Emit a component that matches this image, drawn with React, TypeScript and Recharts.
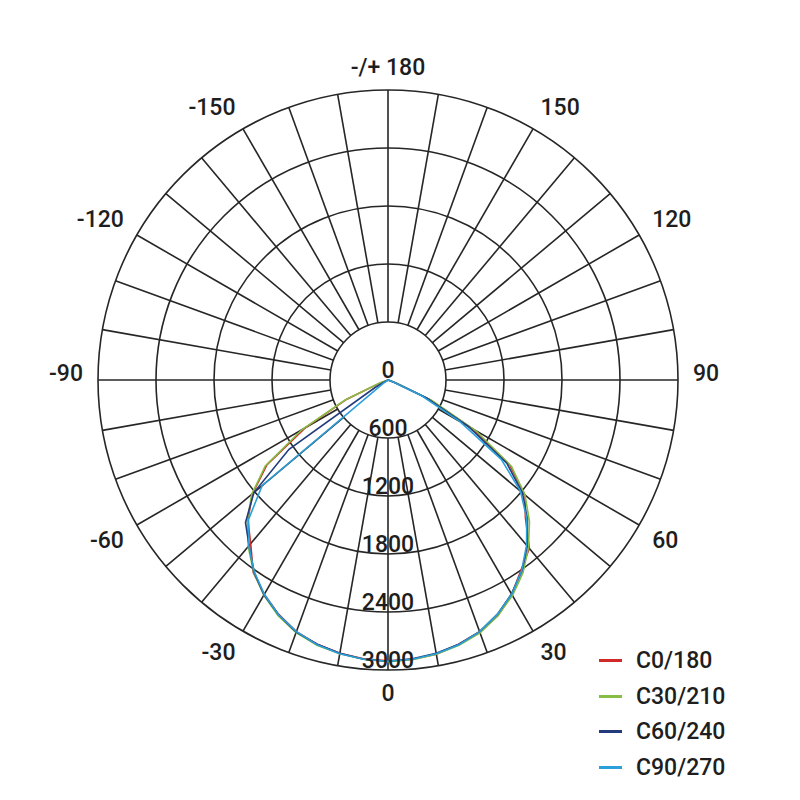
import { Legend, PolarAngleAxis, PolarGrid, PolarRadiusAxis, Radar, RadarChart } from "recharts"

// gamma angles of one half-plane, every 5 degrees
const gammaRight = [
  0, 5, 10, 15, 20, 25, 30, 35, 40, 45, 50, 55, 60, 65, 70, 75, 80, 85, 90,
  95, 100, 105, 110, 115, 120, 125, 130, 135, 140, 145, 150, 155, 160, 165, 170, 175, 180,
]

// luminous intensity (cd) per C-plane, index = gamma / 5
const c0 = [2905, 2900, 2880, 2830, 2770, 2690, 2560, 2400, 2275, 2010, 1850, 1540, 1010, 480, 80, 0, 0, 0, 0, 0, 0, 0, 0, 0, 0, 0, 0, 0, 0, 0, 0, 0, 0, 0, 0, 0, 0]
const c30 = [2915, 2905, 2880, 2840, 2785, 2690, 2575, 2435, 2260, 2070, 1850, 1560, 1050, 500, 90, 0, 0, 0, 0, 0, 0, 0, 0, 0, 0, 0, 0, 0, 0, 0, 0, 0, 0, 0, 0, 0, 0]
const c60 = [2910, 2895, 2870, 2830, 2770, 2675, 2555, 2415, 2240, 2040, 1815, 1500, 960, 440, 60, 0, 0, 0, 0, 0, 0, 0, 0, 0, 0, 0, 0, 0, 0, 0, 0, 0, 0, 0, 0, 0, 0]
const c90 = [2910, 2900, 2875, 2835, 2770, 2675, 2560, 2410, 2230, 2030, 1790, 1430, 860, 380, 40, 0, 0, 0, 0, 0, 0, 0, 0, 0, 0, 0, 0, 0, 0, 0, 0, 0, 0, 0, 0, 0, 0]
const c180 = [2905, 2895, 2870, 2830, 2770, 2675, 2560, 2430, 2210, 2050, 1830, 1530, 990, 470, 80, 0, 0, 0, 0, 0, 0, 0, 0, 0, 0, 0, 0, 0, 0, 0, 0, 0, 0, 0, 0, 0, 0]
const c210 = [2915, 2900, 2875, 2840, 2780, 2690, 2570, 2425, 2250, 2060, 1840, 1550, 1030, 490, 90, 0, 0, 0, 0, 0, 0, 0, 0, 0, 0, 0, 0, 0, 0, 0, 0, 0, 0, 0, 0, 0, 0]
const c240 = [2910, 2900, 2870, 2830, 2775, 2680, 2565, 2420, 2235, 2085, 1810, 1250, 150, 0, 0, 0, 0, 0, 0, 0, 0, 0, 0, 0, 0, 0, 0, 0, 0, 0, 0, 0, 0, 0, 0, 0, 0]
const c270 = [2910, 2900, 2875, 2835, 2770, 2680, 2560, 2415, 2240, 2040, 1700, 60, 0, 0, 0, 0, 0, 0, 0, 0, 0, 0, 0, 0, 0, 0, 0, 0, 0, 0, 0, 0, 0, 0, 0, 0, 0]

const radiusTicks = [0, 600, 1200, 1800, 2400, 3000]

const angleLabels = [
  "0", "10", "20", "30", "40", "50", "60", "70", "80", "90", "100", "110", "120", "130", "140", "150", "160", "170",
  "-/+ 180", "-170", "-160", "-150", "-140", "-130", "-120", "-110", "-100", "-90", "-80", "-70", "-60", "-50", "-40", "-30", "-20", "-10",
]
const shownLabels = ["0", "30", "60", "90", "120", "150", "-/+ 180", "-150", "-120", "-90", "-60", "-30"]

const series = [
  { key: "c0", name: "C0/180", color: "#cf2a27" },
  { key: "c30", name: "C30/210", color: "#86bd45" },
  { key: "c60", name: "C60/240", color: "#233b7d" },
  { key: "c90", name: "C90/270", color: "#2b9fd9" },
]

// right half goes 0 -> 180, left half comes back 175 -> 5
const data = [
  ...gammaRight.map((g, i) => ({ gamma: g, c0: c0[i], c30: c30[i], c60: c60[i], c90: c90[i] })),
  ...gammaRight
    .slice(1, -1)
    .reverse()
    .map((g) => {
      const i = gammaRight.indexOf(g)
      return { gamma: -g, c0: c180[i], c30: c210[i], c60: c240[i], c90: c270[i] }
    }),
]

// rim = outer ring value, only used so the grid chart has a series
const gridData = angleLabels.map((label) => ({ label, rim: 3000 }))

const CX = 388
const CY = 380
const FONT = "Roboto, 'Noto Sans', sans-serif"
const INK = "#1e1e1e"

function AngleTick({ x, y, payload }: any) {
  if (!shownLabels.includes(payload.value)) return <g />
  const dx = x - CX
  const dy = y - CY
  const r = Math.hypot(dx, dy) || 1
  const sx = dx / r
  const sy = dy / r
  const anchor = Math.abs(sx) < 0.1 ? "middle" : sx > 0 ? "start" : "end"
  const shift = Math.abs(sy) < 0.1 ? -7 : sy > 0 ? 8 : -8
  return (
    <text x={x} y={y + shift} textAnchor={anchor} dominantBaseline="central" fontFamily={FONT} fontWeight={500} fontSize={23} fill={INK}>
      {payload.value}
    </text>
  )
}

function RadiusTick({ x, y, payload }: any) {
  return (
    <text x={x} y={y - 10} textAnchor="middle" dominantBaseline="central" fontFamily={FONT} fontWeight={500} fontSize={23} fill={INK}>
      {payload.value}
    </text>
  )
}

function LegendList({ payload }: any) {
  return (
    <div style={{ fontFamily: FONT, fontWeight: 500, fontSize: 23, color: INK }}>
      {(payload || []).map((item: any) => {
        const s = series.find((v) => v.name === item.value)
        return (
          <div key={item.value} style={{ display: "flex", alignItems: "center", height: 35.5 }}>
            <span style={{ display: "inline-block", width: 23, height: 3, background: s ? s.color : item.color, marginRight: 14 }} />
            <span>{item.value}</span>
          </div>
        )
      })}
    </div>
  )
}

export default function App() {
  return (
    <div style={{ position: "absolute", left: 0, top: 0, width: 800, height: 800, background: "#fff" }}>
      {/* grid: spokes start at the first ring; category ticks sit one band early, hence -80 */}
      <div style={{ position: "absolute", left: 0, top: 0 }}>
        <RadarChart
          width={800}
          height={800}
          data={gridData}
          cx={CX}
          cy={CY}
          innerRadius={58}
          outerRadius={290}
          startAngle={-80}
          endAngle={280}
          margin={{ top: 0, right: 0, bottom: 0, left: 0 }}
        >
          <PolarGrid gridType="circle" stroke="#262626" strokeWidth={1.6} />
          <PolarAngleAxis dataKey="label" tickSize={15} tickLine={false} axisLine={false} tick={<AngleTick />} />
          <PolarRadiusAxis
            type="number"
            domain={[600, 3000]}
            ticks={radiusTicks.slice(1)}
            allowDataOverflow
            tick={false}
            axisLine={false}
          />
          <Radar dataKey="rim" stroke="none" fill="none" dot={false} legendType="none" isAnimationActive={false} />
        </RadarChart>
      </div>
      {/* intensity curves; radar points sit half a step late, hence -95 */}
      <div style={{ position: "absolute", left: 0, top: 0 }}>
        <RadarChart
          width={800}
          height={800}
          data={data}
          cx={CX}
          cy={CY}
          innerRadius={0}
          outerRadius={290}
          startAngle={-95}
          endAngle={265}
          margin={{ top: 0, right: 0, bottom: 0, left: 0 }}
        >
          <PolarAngleAxis dataKey="gamma" tick={false} tickLine={false} axisLine={false} />
          <PolarRadiusAxis
            type="number"
            angle={-90}
            domain={[0, 3000]}
            ticks={radiusTicks}
            allowDataOverflow
            axisLine={false}
            tickLine={false}
            tick={<RadiusTick />}
          />
          {series.map((s) => (
            <Radar
              key={s.key}
              name={s.name}
              dataKey={s.key}
              stroke={s.color}
              strokeWidth={1.6}
              fill="none"
              fillOpacity={0}
              dot={false}
              isAnimationActive={false}
            />
          ))}
          <Legend
            layout="vertical"
            align="right"
            verticalAlign="bottom"
            content={<LegendList />}
            wrapperStyle={{ left: 599, top: 643, width: 170, bottom: "auto", right: "auto" }}
          />
        </RadarChart>
      </div>
    </div>
  )
}
